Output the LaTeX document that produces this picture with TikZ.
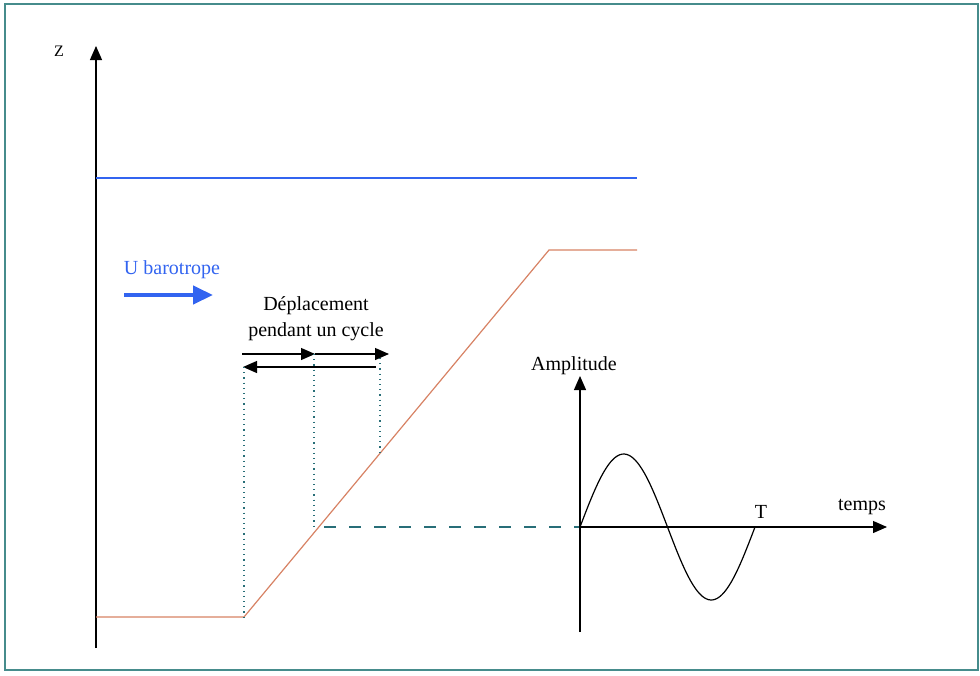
\documentclass[tikz,border=0pt]{standalone}
\usepackage{fontspec}
\setmainfont{Liberation Serif}
\usetikzlibrary{arrows.meta}
\definecolor{framec}{RGB}{70,140,140}
\definecolor{dotc}{RGB}{40,110,120}
\definecolor{profc}{RGB}{215,130,100}
\definecolor{bluec}{RGB}{50,100,240}
\begin{document}
\begin{tikzpicture}[x=0.5pt,y=-0.5pt,
  lbl/.style={font=\fontsize{10}{12}\selectfont, inner sep=0pt, text=black},
  axisline/.style={black, line width=0.6pt, -{Triangle[length=7pt,width=6pt]}},
  dotv/.style={dotc, line width=0.6pt, dotted},
  prof/.style={profc, line width=0.6pt},
  disp/.style={black, line width=0.6pt, -{Triangle[length=7pt,width=6pt]}}]
\useasboundingbox (0,0) rectangle (980,675);
% frame
\draw[framec, line width=0.8pt] (5,4) rectangle (978,670);
% Z axis
\coordinate (zb) at (96,648);
\coordinate (zt) at (96,46);
\draw[axisline] (zb) -- (zt);
\node[lbl, font=\fontsize{8}{10}\selectfont] (zl) at (59,51) {Z};
% blue line
\coordinate (b1) at (96,178);
\coordinate (b2) at (637,178);
\draw[bluec, line width=0.6pt] (b1) -- (b2);
% profile
\coordinate (p0) at (96,617);
\coordinate (p1) at (244,617);
\coordinate (p2) at (549,250);
\coordinate (p3) at (637,250);
\draw[prof] (p0) -- (p1) -- (p2) -- (p3);
% U barotrope
\node[lbl, text=bluec] (ub) at (172,270) {U barotrope};
\coordinate (ua) at (124,295);
\coordinate (ue) at (213,295);
\draw[bluec, line width=2.2pt, -{Triangle[length=10pt,width=9pt]}] (ua) -- (ue);
% Deplacement text
\node[lbl, align=center] (dep) at (316,319) {Déplacement\\[1pt]pendant un cycle};
% displacement arrows
\coordinate (d0) at (242,354);
\coordinate (d1) at (315,354);
\coordinate (d2) at (389,354);
\coordinate (e0) at (376,367);
\coordinate (e1) at (243,367);
\draw[disp] (d0) -- (d1);
\draw[disp] (d1) -- (d2);
\draw[disp] (e0) -- (e1);
% dotted verticals
\coordinate (v1a) at (244,367);
\coordinate (v2a) at (314,354);
\coordinate (v2b) at (314,527);
\coordinate (v3a) at (380,358);
\coordinate (v3b) at (380,455);
\draw[dotv] (v1a) -- (p1);
\draw[dotv] (v2a) -- (v2b);
\draw[dotv] (v3a) -- (v3b);
% dashed horizontal
\coordinate (h0) at (324,527);
\coordinate (o) at (580,527);
\draw[dotc, line width=0.6pt, dash pattern=on 6pt off 6.5pt] (h0) -- (o);
% amplitude axes
\coordinate (ab) at (580,632);
\coordinate (at) at (580,376);
\coordinate (te) at (887,527);
\coordinate (tb) at (580,527);
\draw[axisline] (ab) -- (at);
\draw[axisline] (tb) -- (te);
\node[lbl] (amp) at (574,366) {Amplitude};
\node[lbl] (tps) at (862,507) {temps};
\node[lbl] (T) at (761,512) {T};
% sine
\draw[black, line width=0.6pt, domain=0:175, samples=80, smooth]
  plot ({580+\x},{527-73*sin(2.0571*\x)});
\end{tikzpicture}
\end{document}
